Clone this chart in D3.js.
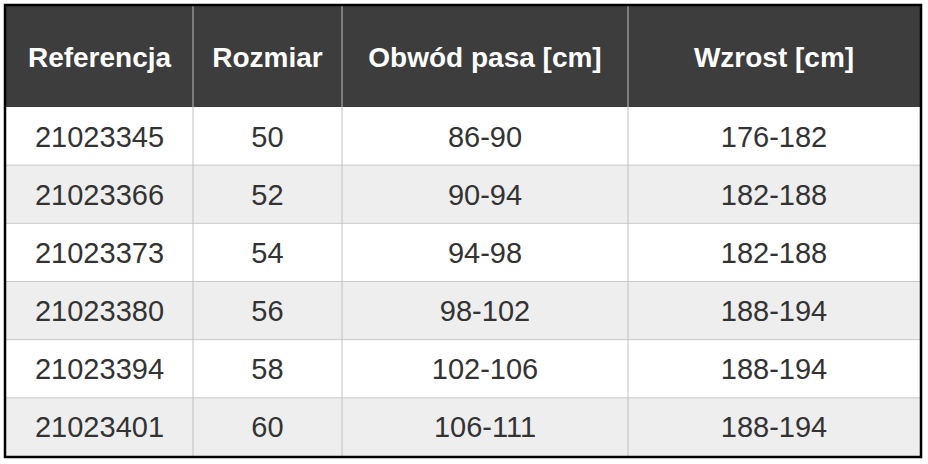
<!DOCTYPE html>
<html><head><meta charset="utf-8">
<script src="https://cdn.jsdelivr.net/npm/d3@7"></script>
<style>body{margin:0;background:#fff}</style>
</head><body><svg id="chart"></svg>
<script>
const headers = ['Referencja', 'Rozmiar', 'Obwód pasa [cm]', 'Wzrost [cm]'];
const references = ['21023345', '21023366', '21023373', '21023380', '21023394', '21023401'];
const sizes = ['50', '52', '54', '56', '58', '60'];
const waist = ['86-90', '90-94', '94-98', '98-102', '102-106', '106-111'];
const heights = ['176-182', '182-188', '182-188', '188-194', '188-194', '188-194'];

const W = 928, H = 464;
const tLeft = 6, tTop = 6, tRight = 920, tBottom = 456, headH = 101;
const colEdges = [tLeft, 193, 342, 628, tRight];
const rows = references.map((r, i) => [r, sizes[i], waist[i], heights[i]]);

const svg = d3.select('#chart').attr('width', W).attr('height', H);
const font = '"Liberation Sans", Arial, sans-serif';

// Row scale for body rows.
const y = d3.scaleBand().domain(d3.range(rows.length)).range([tTop + headH, tBottom]);

// Header.
svg.append('rect').attr('x', tLeft).attr('y', tTop).attr('width', tRight - tLeft).attr('height', headH).attr('fill', '#3d3d3d');

// Body rows.
svg.selectAll('.row').data(rows).enter().append('rect')
    .attr('x', tLeft).attr('y', (d, i) => y(i)).attr('width', tRight - tLeft).attr('height', y.bandwidth())
    .attr('fill', (d, i) => i % 2 ? '#eeeeee' : '#ffffff');

// Grid lines.
svg.selectAll('.hline').data(d3.range(1, rows.length)).enter().append('line')
    .attr('x1', tLeft).attr('x2', tRight).attr('y1', i => y(i)).attr('y2', i => y(i))
    .attr('stroke', '#c8c8c8').attr('stroke-width', 1);
svg.selectAll('.vline').data(colEdges.slice(1, -1)).enter().append('line')
    .attr('x1', d => d).attr('x2', d => d).attr('y1', tTop).attr('y2', tBottom)
    .attr('stroke', '#c0c0c0').attr('stroke-width', 1);

const cx = i => (colEdges[i] + colEdges[i + 1]) / 2;

svg.selectAll('.head').data(headers).enter().append('text')
    .attr('x', (d, i) => cx(i)).attr('y', tTop + headH / 2).attr('dy', '0.36em')
    .attr('text-anchor', 'middle').attr('font-family', font).attr('font-weight', 'bold')
    .attr('font-size', 28).attr('fill', '#ffffff').text(d => d);

rows.forEach((r, ri) => {
    svg.selectAll('.c' + ri).data(r).enter().append('text')
        .attr('x', (d, i) => cx(i)).attr('y', y(ri) + y.bandwidth() / 2).attr('dy', '0.36em')
        .attr('text-anchor', 'middle').attr('font-family', font)
        .attr('font-size', 29).attr('fill', '#333333').text(d => d);
});

// Outer border.
svg.append('rect').attr('x', tLeft - 1).attr('y', tTop - 1).attr('width', tRight - tLeft + 2).attr('height', tBottom - tTop + 2)
    .attr('fill', 'none').attr('stroke', '#000').attr('stroke-width', 2.5);
</script></body></html>
